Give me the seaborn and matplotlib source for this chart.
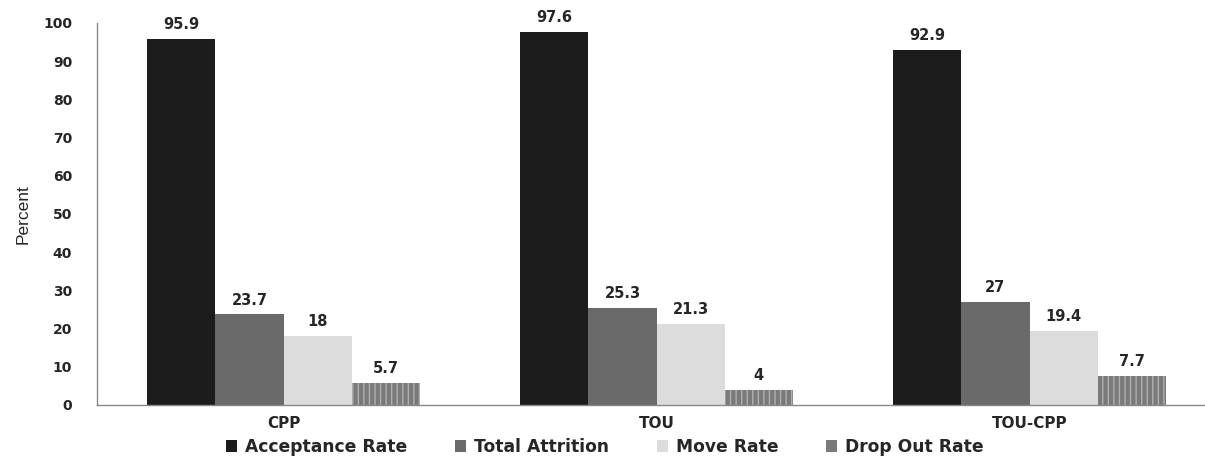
import numpy as np
import pandas as pd
import seaborn as sns
import matplotlib.pyplot as plt

programs = ['CPP', 'TOU', 'TOU-CPP']
series = ['Acceptance Rate', 'Total Attrition', 'Move Rate', 'Drop Out Rate']
acceptance = [95.9, 97.6, 92.9]
attrition = [23.7, 25.3, 27]
move = [18, 21.3, 19.4]
dropout = [5.7, 4, 7.7]
yticks = list(range(0, 101, 10))

colors = ['#1c1c1c', '#6a6a6a', '#dcdcdc', '#7a7a7a']

df = pd.DataFrame({
    'Program': programs * 4,
    'Series': np.repeat(series, 3),
    'Value': acceptance + attrition + move + dropout,
})

sns.set_theme(style='white')
plt.rcParams['font.family'] = ['DejaVu Sans']

fig = plt.figure(figsize=(12.05, 4.57), dpi=100)
ax = fig.add_axes([97 / 1205, 52 / 457, 1119 / 1205, 382 / 457])

sns.barplot(data=df, x='Program', y='Value', hue='Series', order=programs,
            hue_order=series, palette=colors, width=0.73, gap=0,
            edgecolor='none', linewidth=0, ax=ax, legend=True)

# vertical stripes on the drop-out bars
for bar in ax.containers[3]:
    bar.set_hatch('|||')
    bar.set_edgecolor('#b0b0b0')
    bar.set_linewidth(0)

for cont in ax.containers:
    labels = [f'{v:g}' for v in cont.datavalues]
    ax.bar_label(cont, labels=labels, padding=5, fontsize=10.5, fontweight='bold')

ax.set_xlim(-0.5, 2.5)
ax.set_ylim(0, 100)
ax.set_yticks(yticks)
ax.set_yticklabels([str(t) for t in yticks], fontsize=10, fontweight='bold')
ax.set_xticks([0.5, 1.5], minor=True)
ax.tick_params(axis='x', which='major', length=0, labelsize=11, pad=8)
ax.tick_params(axis='x', which='minor', length=4, direction='out', color='#888888')
ax.tick_params(axis='y', length=4, direction='out', color='#888888', pad=14)
for t in ax.get_xticklabels():
    t.set_fontweight('bold')
ax.set_xlabel('')
ax.set_ylabel('Percent', fontsize=12.5, labelpad=9, family='Liberation Sans')

for side in ['top', 'right']:
    ax.spines[side].set_visible(False)
for side in ['left', 'bottom']:
    ax.spines[side].set_color('#888888')
    ax.spines[side].set_linewidth(1)

handles, labels = ax.get_legend_handles_labels()
ax.legend_.remove()
fig.legend(handles, labels, loc='center', bbox_to_anchor=(0.502, 0.022), ncol=4,
           frameon=False, handlelength=0.65, handleheight=0.65, handletextpad=0.45,
           columnspacing=2.8, prop={'weight': 'bold', 'size': 12.3})

fig.savefig('out.png', dpi=100)
